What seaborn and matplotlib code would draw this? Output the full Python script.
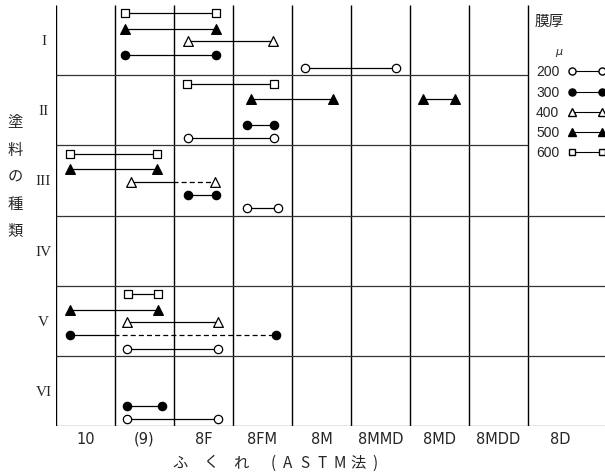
import numpy as np
import pandas as pd
import matplotlib.pyplot as plt
import seaborn as sns
from matplotlib.lines import Line2D

sns.set_style('white')
plt.rcParams['font.family'] = ['DejaVu Sans', 'Noto Sans CJK JP']

# categories
paints = ['I', 'II', 'III', 'IV', 'V', 'VI']
grades = ['10', '(9)', '8F', '8FM', '8M', '8MMD', '8MD', '8MDD', '8D']
thicknesses = [200, 300, 400, 500, 600]

# blister range for each paint / film thickness (x in rating-column units)
seg_paint = ['I', 'I', 'I', 'I', 'I',
             'II', 'II', 'II', 'II', 'II',
             'III', 'III', 'III', 'III', 'III',
             'V', 'V', 'V', 'V', 'V',
             'VI', 'VI']
seg_thick = [600, 500, 400, 300, 200,
             600, 500, 500, 300, 200,
             600, 500, 400, 300, 200,
             600, 500, 400, 300, 200,
             300, 200]
seg_start = [1.17, 1.17, 2.24, 1.17, 4.22,
             2.22, 3.31, 6.22, 3.24, 2.24,
             0.24, 0.24, 1.27, 2.24, 3.24,
             1.22, 0.24, 1.20, 0.24, 1.20,
             1.20, 1.20]
seg_end = [2.71, 2.71, 3.68, 2.71, 5.76,
           3.69, 4.69, 6.76, 3.69, 3.69,
           1.71, 1.71, 2.69, 2.71, 3.76,
           1.73, 1.73, 2.75, 3.73, 2.75,
           1.80, 2.75]
# where the line turns dashed (nan = solid all the way)
seg_dash = [np.nan] * 12 + [1.98] + [np.nan] * 5 + [0.98] + [np.nan] * 3

# vertical slot of each thickness inside a paint row
slot = {600: 0.12, 500: 0.34, 400: 0.52, 300: 0.71, 200: 0.90}
# marker, face colour, size
mstyle = {200: ('o', 'white', 6.0), 300: ('o', 'black', 6.0),
          400: ('^', 'white', 7.0), 500: ('^', 'black', 7.0),
          600: ('s', 'white', 5.5)}

seg = pd.DataFrame({'paint': seg_paint, 'thick': seg_thick, 'start': seg_start,
                    'end': seg_end, 'dash': seg_dash})
seg['y'] = [paints.index(p) + slot[t] for p, t in zip(seg['paint'], seg['thick'])]

# line pieces
rows = []
for i, r in seg.iterrows():
    if np.isnan(r['dash']):
        rows += [(i, 'solid', r['start'], r['y']), (i, 'solid', r['end'], r['y'])]
    else:
        rows += [(i, 'solid', r['start'], r['y']), (i, 'solid', r['dash'], r['y'])]
        rows += [(i + 100, 'dashed', r['dash'], r['y']), (i + 100, 'dashed', r['end'], r['y'])]
pieces = pd.DataFrame(rows, columns=['piece', 'kind', 'x', 'y'])

pts = pd.concat([seg[['thick', 'start', 'y']].rename(columns={'start': 'x'}),
                 seg[['thick', 'end', 'y']].rename(columns={'end': 'x'})])

fig = plt.figure(figsize=(6.05, 4.76), dpi=100)
ax = fig.add_axes([56 / 605, 1 - 426 / 476, 549 / 605, 421 / 476])
xmax = 549 / 59

# grid
ax.vlines(range(0, 9), 0, 6, color='black', lw=1.0, zorder=1)
ax.hlines([1, 2], 0, 8, color='#333333', lw=0.9, zorder=1)
ax.hlines([3, 4, 5, 6], 0, xmax, color='#333333', lw=0.9, zorder=1)

sns.lineplot(data=pieces, x='x', y='y', units='piece', estimator=None, sort=False,
             style='kind', dashes={'solid': '', 'dashed': (4, 2.5)},
             color='black', lw=0.9, legend=False, ax=ax, zorder=2)

for t in thicknesses:
    m, fc, ms = mstyle[t]
    sns.scatterplot(data=pts[pts['thick'] == t], x='x', y='y', marker=m, s=ms ** 2,
                    color=fc, edgecolor='black', linewidth=0.9, ax=ax, zorder=3)

ax.set_xlim(0, xmax)
ax.set_ylim(6, 0)
for s in ax.spines.values():
    s.set_visible(False)

ax.set_xticks([i + 0.5 for i in range(8)] + [8.55])
ax.set_xticklabels(grades, fontsize=10.5)
ax.set_yticks([i + 0.5 for i in range(6)])
ax.set_yticklabels(paints, fontsize=11, family='Liberation Serif')
for lab in ax.get_yticklabels():
    lab.set_ha('center')
ax.tick_params(axis='x', length=0, pad=4)
ax.tick_params(axis='y', length=0, pad=9)
ax.set_xlabel('')
ax.set_ylabel('')

# legend
handles = [Line2D([], [], color='black', lw=0.8, marker=mstyle[t][0],
                  mfc=mstyle[t][1], mec='black', ms=mstyle[t][2] * 0.85)
           for t in thicknesses]
leg = ax.legend(handles, [str(t) for t in thicknesses], markerfirst=False, numpoints=2,
                frameon=False, loc='upper left', bbox_to_anchor=(0.864, 0.87),
                handlelength=2.7, handletextpad=0.65, labelspacing=0.45,
                borderaxespad=0, prop={'family': 'Liberation Sans', 'size': 10})
fig.text(535 / 605, 1 - 22 / 476, '膜厚', fontsize=10.5, va='center',
         family=['Noto Sans CJK JP'])
fig.text(559 / 605, 1 - 53 / 476, r'$\mu$', fontsize=8, va='center', ha='center')

# axis titles
for k, ch in enumerate('塗料の種類'):
    fig.text(15 / 605, 1 - (123 + 27 * k) / 476, ch, fontsize=11, ha='center',
             va='center', family=['Noto Sans CJK JP'])
xlab_chars = ['ふ', 'く', 'れ', '(', 'A', 'S', 'T', 'M', '法', ')']
xlab_pos = [180, 211, 241, 273, 288, 305, 322, 340, 358, 375]
for ch, px in zip(xlab_chars, xlab_pos):
    fig.text(px / 605, 1 - 463 / 476, ch, fontsize=11, ha='center', va='center',
             family=['Noto Sans CJK JP', 'DejaVu Sans'])

fig.savefig('out.png', dpi=100)
